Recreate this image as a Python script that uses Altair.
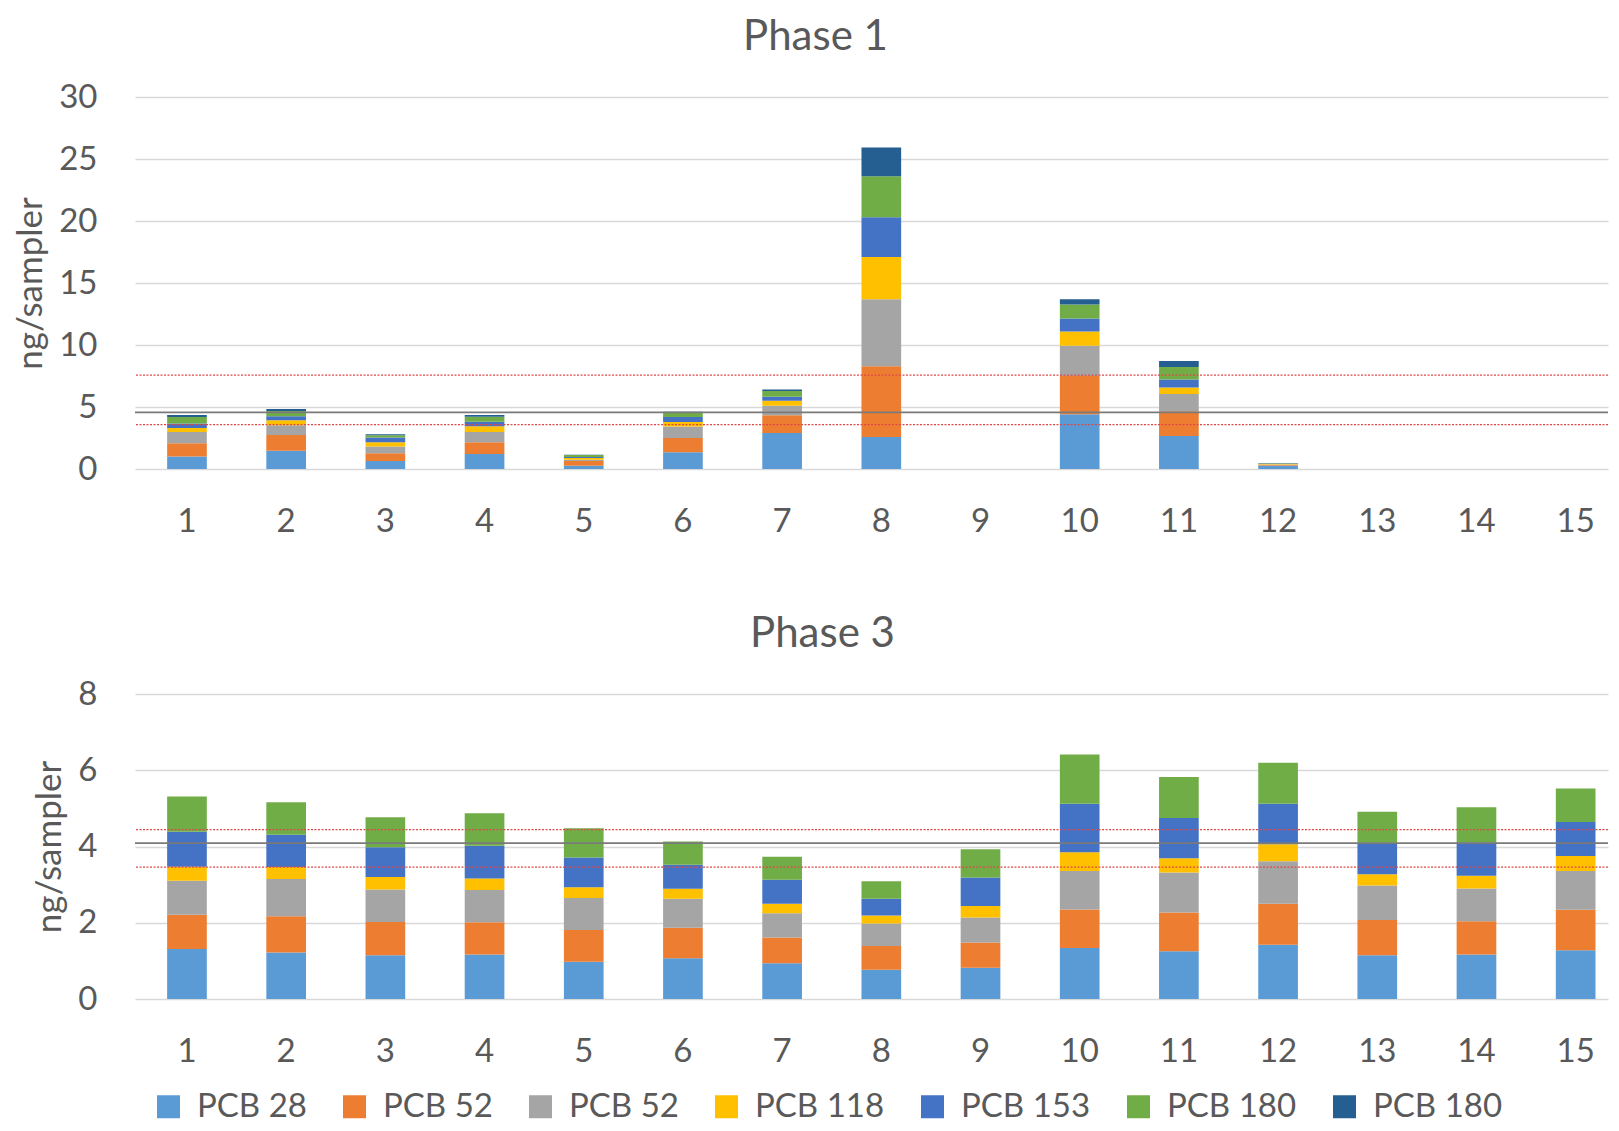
import altair as alt
import pandas as pd

sites = [str(i) for i in range(1, 16)]
series_keys = ["PCB 28", "PCB 52", "PCB 52|b", "PCB 118", "PCB 153", "PCB 180", "PCB 180|b"]
series_colors = ["#5B9BD5", "#ED7D31", "#A5A5A5", "#FFC000", "#4472C4", "#70AD47", "#255E91"]

# Phase 1 values (ng/sampler)
p1_pcb28 = [1.01, 1.47, 0.64, 1.20, 0.27, 1.36, 2.91, 2.59, 0, 4.41, 2.67, 0.25, 0, 0, 0]
p1_pcb52 = [1.07, 1.28, 0.64, 0.96, 0.37, 1.15, 1.42, 5.69, 0, 3.10, 1.98, 0.06, 0, 0, 0]
p1_pcb52b = [0.91, 0.78, 0.54, 0.83, 0.11, 0.91, 0.77, 5.40, 0, 2.43, 1.39, 0.05, 0, 0, 0]
p1_pcb118 = [0.32, 0.40, 0.34, 0.46, 0.13, 0.37, 0.40, 3.41, 0, 1.14, 0.53, 0.04, 0, 0, 0]
p1_pcb153 = [0.35, 0.32, 0.38, 0.37, 0.08, 0.40, 0.32, 3.21, 0, 1.05, 0.64, 0.03, 0, 0, 0]
p1_pcb180 = [0.53, 0.42, 0.18, 0.40, 0.16, 0.35, 0.48, 3.31, 0, 1.14, 1.02, 0.03, 0, 0, 0]
p1_pcb180b = [0.16, 0.16, 0.08, 0.13, 0.03, 0.08, 0.11, 2.32, 0, 0.41, 0.48, 0.02, 0, 0, 0]

# Phase 3 values (ng/sampler)
p3_pcb28 = [1.31, 1.22, 1.15, 1.17, 0.98, 1.07, 0.94, 0.77, 0.82, 1.34, 1.25, 1.42, 1.15, 1.17, 1.28]
p3_pcb52 = [0.90, 0.95, 0.87, 0.84, 0.83, 0.80, 0.67, 0.62, 0.66, 1.01, 1.02, 1.08, 0.92, 0.87, 1.06]
p3_pcb52b = [0.89, 0.98, 0.85, 0.85, 0.84, 0.76, 0.64, 0.59, 0.66, 1.01, 1.05, 1.11, 0.91, 0.86, 1.02]
p3_pcb118 = [0.37, 0.31, 0.33, 0.30, 0.28, 0.26, 0.25, 0.21, 0.30, 0.49, 0.37, 0.45, 0.29, 0.33, 0.39]
p3_pcb153 = [0.92, 0.85, 0.78, 0.86, 0.78, 0.63, 0.63, 0.44, 0.75, 1.27, 1.06, 1.06, 0.83, 0.88, 0.89]
p3_pcb180 = [0.92, 0.85, 0.79, 0.85, 0.77, 0.61, 0.60, 0.46, 0.74, 1.29, 1.07, 1.08, 0.81, 0.92, 0.88]
p3_pcb180b = [0, 0, 0, 0, 0, 0, 0, 0, 0, 0, 0, 0, 0, 0, 0]

# Reference lines
p1_red_lines = [7.57, 3.58]
p1_gray_lines = [4.57]
p3_red_lines = [4.44, 3.46]
p3_gray_lines = [4.09]

FONT = "Lato"
TXT = "#595959"


def long_df(series_lists):
    rows = []
    for idx, (key, vals) in enumerate(zip(series_keys, series_lists)):
        for s, v in zip(sites, vals):
            rows.append({"site": s, "series": key, "idx": idx, "value": v})
    return pd.DataFrame(rows)


df1 = long_df([p1_pcb28, p1_pcb52, p1_pcb52b, p1_pcb118, p1_pcb153, p1_pcb180, p1_pcb180b])
df3 = long_df([p3_pcb28, p3_pcb52, p3_pcb52b, p3_pcb118, p3_pcb153, p3_pcb180, p3_pcb180b])

W = 1473

color_enc = alt.Color(
    "series:N",
    scale=alt.Scale(domain=series_keys, range=series_colors),
    legend=alt.Legend(
        title=None,
        orient="bottom",
        direction="horizontal",
        columns=7,
        labelExpr="split(datum.label, '|')[0]",
        labelFont=FONT,
        labelFontSize=33,
        labelColor=TXT,
        labelLimit=300,
        symbolType="square",
        symbolSize=529,
        symbolStrokeWidth=0,
        symbolOpacity=1,
        symbolOffset=17,
        labelOffset=12,
        columnPadding=14,
        offset=22,
    ),
)


def panel(df, red_lines, gray_lines, title, title_dx, ymax, ystep, h):
    y_scale = alt.Scale(domain=[0, ymax], nice=False, zero=True)
    y_axis = alt.Axis(
        title="ng/sampler",
        values=list(range(0, ymax + 1, ystep)),
        labelFont=FONT,
        labelFontSize=33,
        labelColor=TXT,
        labelPadding=38,
        titleFont=FONT,
        titleFontSize=35,
        titleFontWeight="normal",
        titleColor=TXT,
        titlePadding=10,
        grid=True,
        gridColor="#d9d9d9",
        gridWidth=1.5,
        domain=False,
        ticks=False,
        tickSize=0,
    )
    x_enc = alt.X(
        "site:N",
        sort=sites,
        scale=alt.Scale(domain=sites, paddingInner=0.6, paddingOuter=0.225, align=0.72),
        axis=alt.Axis(
            title=None,
            labelAngle=0,
            labelFont=FONT,
            labelFontSize=33,
            labelColor=TXT,
            labelPadding=36,
            ticks=False,
            tickSize=0,
            domain=False,
            grid=False,
        ),
    )
    bars = alt.Chart(df).mark_bar().encode(
        x=x_enc,
        y=alt.Y("value:Q", stack="zero", scale=y_scale, axis=y_axis),
        color=color_enc,
        order=alt.Order("idx:Q", sort="ascending"),
    )
    red = alt.Chart(pd.DataFrame({"value": red_lines})).mark_rule(
        color="#e04848", strokeDash=[2, 1.5], strokeWidth=1.2
    ).encode(y=alt.Y("value:Q", scale=y_scale, axis=y_axis))
    gray = alt.Chart(pd.DataFrame({"value": gray_lines})).mark_rule(
        color="#7a7a7a", strokeWidth=1.8
    ).encode(y=alt.Y("value:Q", scale=y_scale, axis=y_axis))
    return alt.layer(bars, red, gray).properties(
        width=W,
        height=h,
        title=alt.TitleParams(
            text=title, font=FONT, fontSize=42, fontWeight="normal", color=TXT,
            offset=22, anchor="middle", dx=title_dx,
        ),
    )


c1 = panel(df1, p1_red_lines, p1_gray_lines, "Phase 1", -56, 30, 5, 372)
c3 = panel(df3, p3_red_lines, p3_gray_lines, "Phase 3", -49, 8, 2, 305)

chart = (
    alt.vconcat(c1, c3, spacing=75)
    .resolve_scale(y="independent")
    .properties(padding={"left": 5, "right": 0, "top": 8, "bottom": 0})
    .configure_view(strokeWidth=0, stroke="transparent")
)

chart.save("out.html", embed_options={"renderer": "svg", "actions": False})
